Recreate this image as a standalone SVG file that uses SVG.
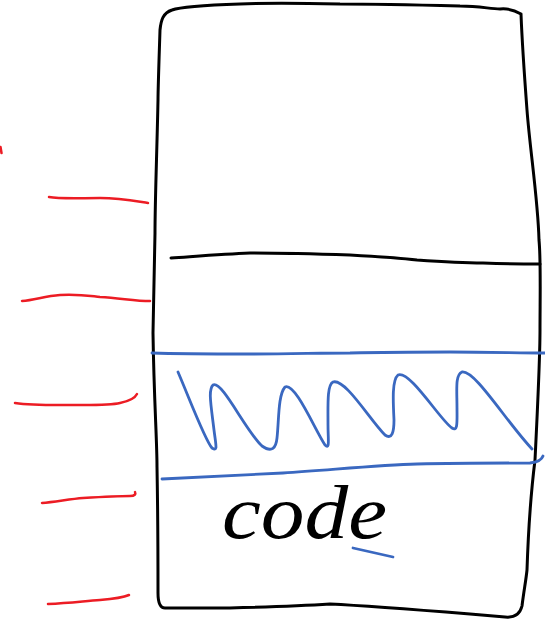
<svg xmlns="http://www.w3.org/2000/svg" width="545" height="620" viewBox="0 0 545 620">
<style>
.k{fill:none;stroke:#000;stroke-width:3;stroke-linecap:round;stroke-linejoin:round}
.r{fill:none;stroke:#ec1c24;stroke-width:2.5;stroke-linecap:round;stroke-linejoin:round}
.b{fill:none;stroke:#3a68c0;stroke-width:2.8;stroke-linecap:round;stroke-linejoin:round}
.t{font-family:"Liberation Serif","DejaVu Serif",serif;font-style:italic;font-size:76px;fill:#000}
</style>
<rect width="545" height="620" fill="#fff"/>
<g id="box">
<path class="k" d="M521,14 C516,11 510,8 500,9 C490,9 480,6 460,6 C420,5 380,4 340,4 C300,3 260,3 240,4 C210,5 180,7 172,10 C163,13 161,20 160,30 C159,60 158,90 158,100 C157,150 155,200 155,233 C154,280 153,320 153,333 C154,400 157,440 157,467 C158,520 158,560 158,593 C158,603 160,608 165,608 L230,608 C270,607 300,606 330,604 C370,606 420,610 470,614 L505,617 C515,618 520,614 522,606 C524,590 526,580 527,570 C528,540 530,500 535,460 C537,420 540,360 540,330 C540,300 541,260 539,240 C538,200 530,150 527,110 C524,70 522,40 521,14"/>
<path class="k" d="M171,258 C200,256 225,254 250,253 C290,253 320,254 350,255 C385,257 400,258 417,260 C445,262 465,263 483,263 C510,264 530,264 540,264"/>
</g>
<g id="markers">
<path class="r" d="M0.5,147 L1.5,153"/>
<path class="r" d="M49,197 C60,199 80,198 100,198 C120,198 135,201 148,203"/>
<path class="r" d="M22,301 C35,300 45,296 60,295 C80,294 90,296 100,297 C120,298 135,301 150,301"/>
<path class="r" d="M15,403 C35,406 60,405 83,405 C100,405 112,405 120,403 C130,401 135,398 137,394"/>
<path class="r" d="M42,503 C55,502 70,499 83,498 C100,497 118,496 130,496 C135,496 136,494 135,492"/>
<path class="r" d="M48,604 C70,603 85,601 100,600 C112,599 122,598 129,595"/>
</g>
<g id="band">
<path class="b" d="M152,353 C180,354 210,354 250,354 C290,354 320,353 350,353 C390,352 420,352 450,352 C490,352 520,353 545,353"/>
<path class="b" d="M178,372 C190,400 205,440 212,448 C218,452 216,446 214,430 C211,405 208,390 213,385 C222,380 245,430 262,446 C272,453 276,448 277,438 C279,420 278,395 285,387 C295,382 315,430 325,445 C330,450 328,440 328,425 C328,405 327,385 333,382 C345,378 370,420 385,435 C392,440 394,432 394,420 C393,400 392,380 398,375 C410,370 440,420 452,428 C458,432 457,422 457,408 C457,390 455,375 462,372 C475,370 505,420 532,449"/>
<path class="b" d="M162,479 C200,477 240,475 283,473 C330,470 380,465 417,464 C460,463 500,463 530,463 C538,462 542,459 543,456"/>
<path class="b" d="M353,548 L393,557"/>
</g>
<g id="label">
<text class="t" x="222" y="538" textLength="165" lengthAdjust="spacingAndGlyphs">code</text>
</g>
</svg>
